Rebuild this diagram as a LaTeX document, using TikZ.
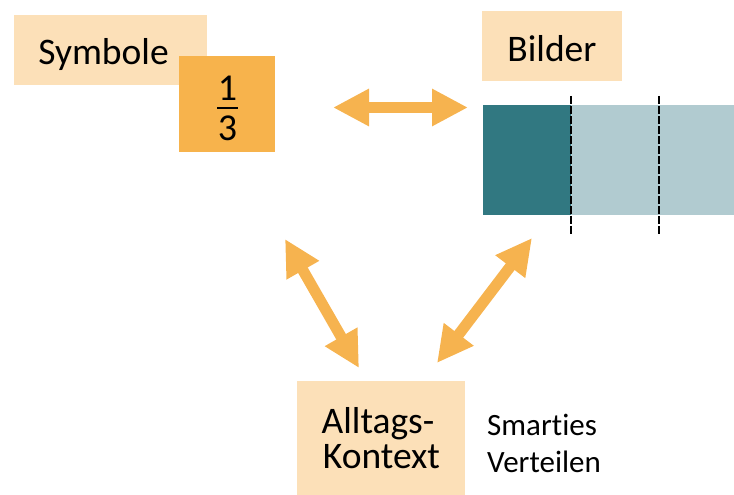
\documentclass[tikz,border=0pt]{standalone}
\usepackage{fontspec}
\setmainfont{Carlito}[Ligatures=NoCommon]
\usetikzlibrary{arrows.meta}
\definecolor{peach}{HTML}{FCE0B8}
\definecolor{amber}{HTML}{F7B34C}
\definecolor{arrowc}{HTML}{F6B34F}
\definecolor{tealdark}{HTML}{317881}
\definecolor{teallight}{HTML}{B1CBD0}
\tikzset{
  box/.style={fill=#1, draw=none, inner sep=0pt, anchor=north west},
  lbl/.style={inner sep=0pt, anchor=base, font=\fontsize{37.5}{44}\selectfont},
  small/.style={inner sep=0pt, anchor=base west, font=\fontsize{31}{36}\selectfont},
  digit/.style={inner sep=0pt, anchor=base, font=\fontsize{38}{44}\selectfont},
  fat/.style={draw=arrowc, line width=11pt,
    {Triangle[length=36pt,width=35pt]}-{Triangle[length=36pt,width=35pt]}},
  cut/.style={draw=black, line width=2.6pt, dash pattern=on 7.5pt off 2.5pt}
}
\begin{document}
\begin{tikzpicture}[x=1pt, y=-1pt]
\useasboundingbox (0,0) rectangle (734,495);
% label boxes
\node[box=peach, minimum width=193pt, minimum height=70pt] (symbox) at (14,15) {};
\node[box=amber, minimum width=96pt, minimum height=96pt] (fracbox) at (179,56) {};
\node[box=peach, minimum width=140pt, minimum height=70pt] (bildbox) at (482,11) {};
\node[box=peach, minimum width=168pt, minimum height=114pt] (alltbox) at (297,381) {};
% texts
\node[lbl] (symtxt) at (103.5,65) {Symbole};
\node[lbl] (bildtxt) at (552,62) {Bilder};
\node[lbl] (allt1) at (378,433) {Alltags-};
\node[lbl] (allt2) at (381.5,468) {Kontext};
\node[small] (smart1) at (487,435) {Smarties};
\node[small] (smart2) at (487,472) {Verteilen};
% fraction 1/3
\node[digit] (num) at (227.5,100) {1};
\node[digit] (den) at (227.5,140) {3};
\draw[line width=2.5pt] (217,108) -- (238,108);
% bar model: one third shaded
\fill[tealdark] (483,105) rectangle (571,215);
\fill[teallight] (571,105) rectangle (734,215);
\coordinate (cutA1) at (571,96);
\coordinate (cutA2) at (571,236);
\coordinate (cutB1) at (659,96);
\coordinate (cutB2) at (659,236);
\draw[cut] (cutA1) -- (cutA2);
\draw[cut] (cutB1) -- (cutB2);
% double arrows between the three representations
\coordinate (hL) at (333,107.5);
\coordinate (hR) at (468,107.5);
\coordinate (dL1) at (285,239);
\coordinate (dL2) at (359,368);
\coordinate (dR1) at (532,238);
\coordinate (dR2) at (437,363);
\draw[fat] (hL) -- (hR);
\draw[fat] (dL1) -- (dL2);
\draw[fat] (dR1) -- (dR2);
\end{tikzpicture}
\end{document}
